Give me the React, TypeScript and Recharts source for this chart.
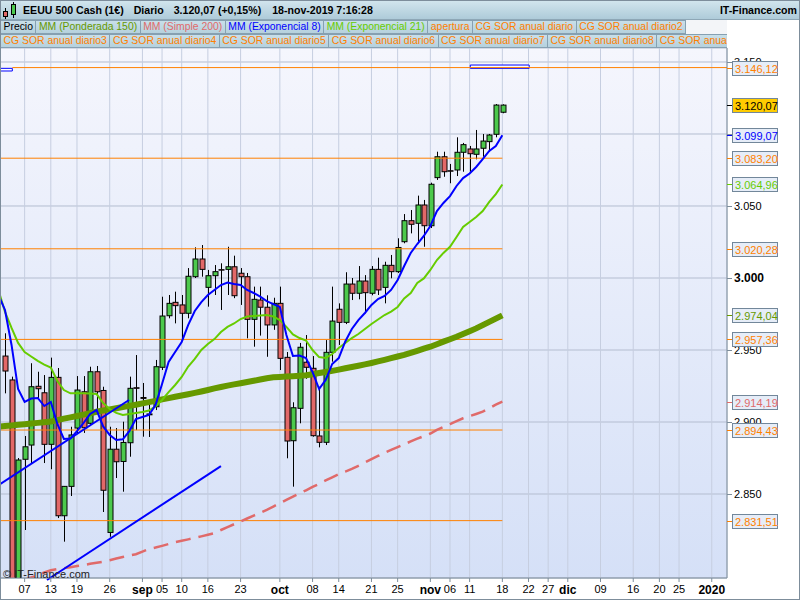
import React from 'react';
import { ComposedChart, Bar, Line, XAxis, YAxis, CartesianGrid, ReferenceLine, ReferenceArea } from 'recharts';

// sesiones: posición 0 = 01-ago (índice -1), posición 1 = 02-ago (índice 0) ... 18-nov (índice 76)
const fechas = [
    '01-ago', '02-ago', '05-ago', '06-ago', '07-ago', '08-ago', '09-ago', '12-ago', '13-ago', '14-ago',
    '15-ago', '16-ago', '19-ago', '20-ago', '21-ago', '22-ago', '23-ago', '26-ago', '27-ago', '28-ago',
    '29-ago', '30-ago', '02-sep', '03-sep', '04-sep', '05-sep', '06-sep', '09-sep', '10-sep', '11-sep',
    '12-sep', '13-sep', '16-sep', '17-sep', '18-sep', '19-sep', '20-sep', '23-sep', '24-sep', '25-sep',
    '26-sep', '27-sep', '30-sep', '01-oct', '02-oct', '03-oct', '04-oct', '07-oct', '08-oct', '09-oct',
    '10-oct', '11-oct', '14-oct', '15-oct', '16-oct', '17-oct', '18-oct', '21-oct', '22-oct', '23-oct',
    '24-oct', '25-oct', '28-oct', '29-oct', '30-oct', '31-oct', '01-nov', '04-nov', '05-nov', '06-nov',
    '07-nov', '08-nov', '11-nov', '12-nov', '13-nov', '14-nov', '15-nov', '18-nov',
];

const apertura = [
    null, 2945.8, 2929.2, 2772, 2874.1, 2884, 2924.8, 2920.3, 2884.5, 2931, 2834.9, 2855.3, 2895.8, 2921, 2899.1,
    2934.9, 2921.9, 2823.3, 2881.1, 2872.6, 2885.6, 2923.8, 2917, 2905, 2910.6, 2938, 2973.8, 2983.1, 2981.3,
    2975.5, 3000.9, 3013.2, 2993.5, 3001.6, 3005.8, 3006, 3007.8, 3003.3, 3000.9, 2971.3, 2984.7, 2979.7, 2967.4,
    2982.4, 2944.9, 2887, 2909.5, 2941.5, 2937.3, 2890.3, 2885.9, 2948.4, 2978.3, 2969.2, 2995.8, 2989.4, 2997.9,
    2989.4, 3006, 2993.5, 3008.8, 3004.4, 3025.2, 3039.8, 3038, 3050.7, 3036.3, 3069.7, 3084.2, 3074.5, 3075,
    3087.3, 3089.6, 3085.9, 3090.1, 3094.7, 3099.8, 3115.1,
];
const maximo = [
    null, 2961.6, 2931.5, 2875, 2890.3, 2940.8, 2934.9, 2932.6, 2944.7, 2937.5, 2855.5, 2896.7, 2931.9, 2931.9,
    2938.4, 2938.9, 2924.5, 2896.7, 2895.8, 2900.2, 2931.5, 2946.5, 2927.1, 2915.3, 2943.1, 2987, 2988.2, 2990.5,
    2988.2, 3006.9, 3021.3, 3022.9, 3005.6, 3009, 3010.2, 3021.7, 3015.5, 3006.9, 3003.5, 2994, 2994, 2988, 2986.3,
    2994, 2948.6, 2913.7, 2954.9, 2960.4, 2945.8, 2924.5, 2956.9, 2994, 2982.4, 3004, 3000, 3008.3, 3002, 3008.3,
    3014.1, 3011.3, 3016, 3027.6, 3044.4, 3047.2, 3057.2, 3054.2, 3066.2, 3087.7, 3087.7, 3079.2, 3097.7, 3093.8,
    3091.7, 3102.8, 3100, 3100, 3120.8, 3120.6,
];
const minimo = [
    null, 2919.9, 2760, 2765, 2825, 2871.3, 2915.3, 2871.5, 2867.2, 2833.3, 2816.9, 2848.6, 2892.4, 2892.4, 2897.2,
    2908.3, 2837.5, 2820.3, 2861.1, 2851.6, 2875.9, 2894.4, 2889.8, 2889.6, 2908.3, 2936.1, 2972, 2968.5, 2956.9,
    2972, 3000, 3000.9, 2980.1, 2988.2, 2977.8, 2988.2, 2986, 2981.3, 2958.1, 2952.3, 2960, 2945.3, 2964, 2936.1,
    2874.8, 2855.1, 2899.1, 2930, 2889.8, 2882.4, 2884, 2941.9, 2953.5, 2968, 2984.7, 2985.2, 2975.5, 2988, 2988.2,
    2982.4, 2999.8, 3003.5, 3024.1, 3031, 3025.2, 3021.7, 3034.7, 3068.1, 3070.3, 3065.8, 3070.8, 3073.8, 3073.8,
    3082.4, 3084.2, 3087.7, 3097.7, 3114.4,
];
const cierre = [
    null, 2935.4, 2770, 2873.6, 2882.8, 2924.5, 2923.1, 2884.5, 2931, 2834.9, 2855.3, 2891, 2922.2, 2896, 2934.9,
    2921, 2852.6, 2881.1, 2872.4, 2885.8, 2923.4, 2923.4, 2916.4, 2905.6, 2938.4, 2973.6, 2982.4, 2980.8, 2975.5,
    3001.2, 3013.2, 3006, 3001.6, 3004.4, 3005.6, 3007.8, 2987.7, 3000.9, 2971.3, 2985.2, 2979.7, 2967.4, 2982.4,
    2944.2, 2886.8, 2909.9, 2951.9, 2938, 2890.5, 2885.9, 2948.4, 2970.1, 2969.2, 2995.8, 2989.4, 2997.9, 2989.8,
    3006, 2991.7, 3008.8, 3004.4, 3021.2, 3039.8, 3037.3, 3050.7, 3036.3, 3065.1, 3084.2, 3073.8, 3074.3, 3087.3,
    3092.6, 3086.3, 3089.6, 3095.1, 3099.3, 3120.1, 3120.07,
];

const mmPonderada150 = [
    2896.8, 2897.2, 2897.6, 2898.1, 2898.5, 2899, 2899.4, 2899.9, 2900.3, 2901.3, 2902.3, 2903.2, 2904.2, 2905.1,
    2906.1, 2907.1, 2908, 2908.8, 2909.6, 2910.4, 2911.2, 2912, 2912.9, 2913.8, 2914.7, 2915.7, 2916.6, 2917.5,
    2918.4, 2919.3, 2920.2, 2921.2, 2922.2, 2923.3, 2924.3, 2925.3, 2926.1, 2926.9, 2927.8, 2928.6, 2929.5, 2930.4,
    2931, 2931.3, 2931.6, 2931.8, 2932.1, 2932.5, 2933.2, 2934, 2934.7, 2935.5, 2936.4, 2937.3, 2938.2, 2939.1,
    2940, 2941, 2942.1, 2943.2, 2944.4, 2945.5, 2946.6, 2948, 2949.4, 2950.9, 2952.3, 2954, 2955.8, 2957.5, 2959.2,
    2961.1, 2963, 2965, 2967.3, 2969.5, 2971.8, 2974.04,
];
const mmSimple200 = [
    2784.5, 2786, 2787.5, 2789, 2790.5, 2792, 2793.5, 2795.5, 2797, 2797.8, 2798.5, 2799.2, 2800, 2800.7, 2801.5,
    2802.2, 2803, 2804, 2805.2, 2806.3, 2807.4, 2808.2, 2810, 2811.8, 2812.8, 2814, 2815.3, 2816.6, 2817.6, 2818.5,
    2819.5, 2820.6, 2821.7, 2822.8, 2825, 2827, 2829, 2831, 2833, 2835, 2837, 2839, 2841.3, 2843.6, 2845.9, 2848.2,
    2850.4, 2852.6, 2854.9, 2857, 2859.4, 2861.6, 2863.7, 2865.5, 2867.4, 2869.6, 2871.9, 2874.2, 2876.4, 2878.7,
    2880.6, 2882.5, 2884.5, 2886.5, 2888.4, 2890.2, 2892, 2894.5, 2896.5, 2898.5, 2900.6, 2902.6, 2904.1, 2905.6,
    2907.2, 2909.5, 2912, 2914.19,
];
const mmExponencial8 = [
    2988.2, 2977.8, 2953.5, 2922.9, 2913.9, 2916.3, 2916.7, 2911.1, 2913.9, 2898.6, 2888.2, 2888.5, 2893.7, 2899.3,
    2905.6, 2908.3, 2896.9, 2891, 2887.5, 2888, 2893.7, 2902.1, 2903.5, 2904.9, 2911.8, 2926.4, 2941.7, 2948.6,
    2955.6, 2967.4, 2977.1, 2983.3, 2988.2, 2991.7, 2995.1, 2996.9, 2995.8, 2995.1, 2991.7, 2989.6, 2987, 2984,
    2981.9, 2979.9, 2960.4, 2945.8, 2946.2, 2944.4, 2934.7, 2922.9, 2929.2, 2940.3, 2944.4, 2955.9, 2964.6, 2970.8,
    2975.7, 2981.3, 2985.4, 2987.5, 2991.7, 2998.6, 3008.3, 3017.4, 3023.6, 3029.2, 3036.1, 3046.5, 3052.1, 3056.9,
    3063.9, 3069.4, 3072.6, 3077.1, 3082.6, 3088.2, 3091.7, 3099.07,
];
const mmExponencial21 = [
    2991.7, 2976.4, 2965.3, 2954.9, 2948.6, 2945.5, 2942.4, 2939.9, 2937.8, 2928.5, 2922.2, 2919.9, 2919.9, 2919.9,
    2919.8, 2919.4, 2913.2, 2909, 2906.3, 2904.9, 2905.6, 2906.3, 2906.9, 2908, 2910.8, 2915.3, 2920.8, 2925.7,
    2931.3, 2938.5, 2943.8, 2950, 2954.2, 2957.6, 2962.5, 2966, 2968.4, 2971.5, 2973.3, 2973.6, 2974, 2974.3,
    2973.3, 2970.8, 2966, 2960.8, 2958.3, 2956.6, 2950, 2945.1, 2944.4, 2947.2, 2951.4, 2954.9, 2958.3, 2961.1,
    2964.6, 2968.1, 2971.2, 2974.3, 2976.7, 2979.9, 2985.8, 2989.6, 2996.5, 2999.7, 3005.6, 3012.5, 3017.4, 3021.7,
    3028.5, 3035.4, 3038.9, 3042.4, 3046.5, 3052.8, 3058.3, 3064.96,
];

// niveles "CG SOR anual diario" (líneas naranjas)
const nivelesSor = [3146.12, 3083.2, 3020.28, 2957.36, 2894.43, 2831.51];

// objetos dibujados a mano: índice de sesión y precio
const lineasTendencia = [
    { x1: -0.76, y1: 2856.9, x2: 18.95, y2: 2915.3 },
    { x1: 6.42, y1: 2790.3, x2: 33, y2: 2869.4 },
];
const rectangulos = [
    { x1: -0.76, x2: 1.12, y1: 3143.75, y2: 3145.6 },
    { x1: 71.1, x2: 80.1, y1: 3145.6, y2: 3147.9 },
];

const ticksX = [3, 7, 11, 16, 21, 24, 27, 31, 36, 42, 47, 51, 56, 60, 65, 68, 71, 76, 80, 83, 86, 91, 96, 100, 103, 108];
const etiquetasX = ['07', '13', '19', '26', 'sep', '05', '10', '16', '23', 'oct', '08', '14', '21', '25', 'nov', '06', '11', '18', '22', '27', 'dic', '09', '16', '20', '25', '2020'];
const ticksY = [2850, 2900, 2950, 3000, 3050, 3100, 3150];

const leyenda1 = [
    ['Precio', '#000000'],
    ['MM (Ponderada 150)', '#669900'],
    ['MM (Simple 200)', '#e06a6a'],
    ['MM (Exponencial 8)', '#0000ff'],
    ['MM (Exponencial 21)', '#66cc00'],
    ['apertura', '#ff8000'],
    ['CG SOR anual diario', '#ff8000'],
    ['CG SOR anual diario2', '#ff8000'],
];
const leyenda2 = [
    'CG SOR anual diario3', 'CG SOR anual diario4', 'CG SOR anual diario5', 'CG SOR anual diario6',
    'CG SOR anual diario7', 'CG SOR anual diario8', 'CG SOR anual diario9',
];

const DOMINIO_X: [number, number] = [-0.764, 110.33];
const DOMINIO_Y: [number, number] = [2791.67, 3159.72];
const NARANJA = '#ff8000';
const GRIS_EJE = '#7d8d9b';

const filas = fechas.map((f, k) => ({
    i: k - 1,
    fecha: f,
    o: apertura[k],
    h: maximo[k],
    l: minimo[k],
    c: cierre[k],
    p150: mmPonderada150[k],
    s200: mmSimple200[k],
    e8: mmExponencial8[k],
    e21: mmExponencial21[k],
}));

const miles = (v: number, dec = 0) => {
    const [ent, fr] = v.toFixed(dec).split('.');
    const e = ent.replace(/\B(?=(\d{3})+(?!\d))/g, '.');
    return fr ? `${e},${fr}` : e;
};

const ultimo = fechas.length - 1;
const cajas = [
    { v: nivelesSor[0], color: NARANJA },
    { v: cierre[ultimo] as number, color: '#000', fondo: '#ffcc00' },
    { v: mmExponencial8[ultimo], color: '#0000ff' },
    { v: nivelesSor[1], color: NARANJA },
    { v: mmExponencial21[ultimo], color: '#66cc00' },
    { v: nivelesSor[2], color: NARANJA },
    { v: mmPonderada150[ultimo], color: '#669900' },
    { v: nivelesSor[3], color: NARANJA },
    { v: mmSimple200[ultimo], color: '#e06a6a' },
    { v: nivelesSor[4], color: NARANJA },
    { v: nivelesSor[5], color: NARANJA },
];
// primero las marcas numéricas y luego los recuadros, que quedan encima
const ticksEje = [...ticksY, ...cajas.map((b) => b.v)];

function Vela(props: any) {
    const { x, y, width, height, payload } = props;
    if (!payload || payload.o == null || height == null) return null;
    const { o, h, l, c } = payload;
    const top = height < 0 ? y + height : y;
    const alto = Math.abs(height);
    const k = alto / (h - l);
    const cx = Math.round(x + width / 2) + 0.5;
    const yo = top + (h - o) * k;
    const yc = top + (h - c) * k;
    const cuerpo = Math.min(yo, yc);
    const sube = c >= o;
    return (
        <g>
            <line x1={cx} x2={cx} y1={top} y2={top + alto} stroke="#000" strokeWidth={1} />
            <rect
                x={cx - 2.5}
                y={cuerpo}
                width={5}
                height={Math.max(Math.abs(yc - yo), 0.5)}
                fill={sube ? '#4cc94c' : '#e26868'}
                stroke="#000"
                strokeWidth={1}
            />
        </g>
    );
}

function TickX(props: any) {
    const { x, y, payload } = props;
    const t = etiquetasX[ticksX.indexOf(payload.value)] ?? '';
    const fuerte = ['sep', 'oct', 'nov', 'dic', '2020'].includes(t);
    return (
        <text x={x} y={y} dy="0.75em" textAnchor="middle" fontSize={fuerte ? 12 : 11} fontWeight={fuerte ? 'bold' : 'normal'} fill="#000">
            {t}
        </text>
    );
}

// marca del eje derecho: número de la escala o recuadro con el valor
function TickY(props: any) {
    const { x, y, payload, index } = props;
    const yy = Math.round(y);
    if (index < ticksY.length) {
        const fuerte = payload.value === 3000;
        return (
            <g>
                <line x1={x} x2={x + 5} y1={yy + 0.5} y2={yy + 0.5} stroke={GRIS_EJE} />
                <text x={x + 7} y={yy} dy={4} textAnchor="start" fontSize={fuerte ? 12 : 11} fontWeight={fuerte ? 'bold' : 'normal'} fill="#000">
                    {miles(payload.value)}
                </text>
            </g>
        );
    }
    const b = cajas[index - ticksY.length];
    if (!b) return null;
    const fondo = b.fondo ?? '#e6edf8';
    return (
        <g>
            <line x1={x} x2={x + 5} y1={yy + 0.5} y2={yy + 0.5} stroke={b.color} />
            <rect x={x + 5.5} y={yy - 6.5} width={45} height={14} fill={fondo} stroke="#72879a" />
            <text x={x + 8} y={yy + 4.5} fontSize={11} fill={b.color} textAnchor="start">
                {miles(b.v, 2)}
            </text>
        </g>
    );
}

const cajaLeyenda: React.CSSProperties = {
    height: 14,
    boxSizing: 'border-box',
    border: '1px solid #86a0b1',
    marginRight: -1,
    padding: '0 2.5px',
    background: 'linear-gradient(#c8dfe9, #b6d1dd)',
    fontSize: 10.4,
    lineHeight: '12px',
    whiteSpace: 'nowrap',
    flexShrink: 0,
};

function Encabezado() {
    return (
        <>
            <div
                style={{
                    position: 'absolute', left: 0, top: 0, width: 800, height: 20, boxSizing: 'border-box',
                    background: 'linear-gradient(#d3e6ee, #aecbd9)', borderBottom: '1px solid #8ea7b6',
                    display: 'flex', alignItems: 'center', fontSize: 10.6, fontWeight: 'bold', color: '#000',
                }}
            >
                <svg width={20} height={20} style={{ flexShrink: 0 }}>
                    <line x1={5.5} x2={5.5} y1={8} y2={19} stroke="#000" />
                    <rect x={3.5} y={11.5} width={4} height={5} fill="#e26868" stroke="#000" />
                    <line x1={13.5} x2={13.5} y1={2} y2={18} stroke="#000" />
                    <rect x={11.5} y={4.5} width={4} height={10} fill="#4cc94c" stroke="#000" />
                </svg>
                <span style={{ marginLeft: 3 }}>EEUU 500 Cash (1€)</span>
                <span style={{ marginLeft: 10 }}>Diario</span>
                <span style={{ marginLeft: 10 }}>3.120,07 (+0,15%)</span>
                <span style={{ marginLeft: 11 }}>18-nov-2019 7:16:28</span>
                <span style={{ marginLeft: 'auto', marginRight: 3 }}>IT-Finance.com</span>
            </div>
            <div style={{ position: 'absolute', left: 0, top: 20, width: 727, height: 14, display: 'flex', overflow: 'hidden', background: '#f3f5f8' }}>
                {leyenda1.map(([t, c]) => (
                    <div key={t} style={{ ...cajaLeyenda, color: c }}>{t}</div>
                ))}
            </div>
            <div style={{ position: 'absolute', left: 0, top: 34, width: 727, height: 14, display: 'flex', overflow: 'hidden' }}>
                {leyenda2.map((t) => (
                    <div key={t} style={{ ...cajaLeyenda, color: NARANJA }}>{t}</div>
                ))}
            </div>
        </>
    );
}

export default function App() {
    return (
        <div style={{ position: 'relative', width: 800, height: 600, overflow: 'hidden', background: '#fff', fontFamily: '"Liberation Sans", Arial, sans-serif' }}>
            <style>{'body{margin:0}'}</style>
            <ComposedChart width={800} height={600} data={filas} margin={{ top: 48, right: 0, bottom: 0, left: 0 }}>
                <defs>
                    <linearGradient id="fondoGrafico" x1="0" y1="0" x2="0" y2="1">
                        <stop offset="0%" stopColor="#f5f6fd" />
                        <stop offset="100%" stopColor="#d5e0f7" />
                    </linearGradient>
                </defs>
                <CartesianGrid vertical={false} yAxisId="rejilla" stroke="#b4bdd0" fill="url(#fondoGrafico)" />
                <CartesianGrid horizontal={false} stroke="#c6cee0" />
                <XAxis
                    dataKey="i"
                    type="number"
                    domain={DOMINIO_X}
                    allowDataOverflow
                    ticks={ticksX}
                    interval={0}
                    tick={<TickX />}
                    height={22}
                    tickSize={4}
                    tickMargin={3}
                    axisLine={{ stroke: GRIS_EJE }}
                    tickLine={{ stroke: GRIS_EJE }}
                />
                <YAxis yAxisId="rejilla" hide orientation="right" type="number" domain={DOMINIO_Y} allowDataOverflow ticks={ticksY} interval={0} />
                <YAxis
                    orientation="right"
                    type="number"
                    domain={DOMINIO_Y}
                    allowDataOverflow
                    ticks={ticksEje}
                    interval={0}
                    width={73}
                    tick={<TickY />}
                    tickSize={0}
                    tickMargin={0}
                    axisLine={{ stroke: GRIS_EJE }}
                    tickLine={false}
                />
                {nivelesSor.map((v, n) => (
                    <ReferenceLine
                        key={'sor' + v}
                        segment={[{ x: n === 0 ? 1.12 : DOMINIO_X[0], y: v }, { x: n === 0 ? DOMINIO_X[1] : ultimo - 1, y: v }]}
                        stroke={NARANJA}
                        strokeWidth={1}
                        ifOverflow="visible"
                    />
                ))}
                <Line dataKey="s200" stroke="#e06a6a" strokeWidth={2.5} strokeDasharray="15 8" dot={false} activeDot={false} isAnimationActive={false} />
                <Line dataKey="p150" stroke="#669900" strokeWidth={6} dot={false} activeDot={false} isAnimationActive={false} />
                <Bar dataKey={(d: any) => (d.o == null ? null : [d.l, d.h])} barSize={5} shape={(p: any) => <Vela {...p} />} isAnimationActive={false} />
                <Line dataKey="e21" stroke="#66cc00" strokeWidth={2} dot={false} activeDot={false} isAnimationActive={false} />
                <Line dataKey="e8" stroke="#0000ff" strokeWidth={2} dot={false} activeDot={false} isAnimationActive={false} />
                {lineasTendencia.map((t, n) => (
                    <ReferenceLine
                        key={'tend' + n}
                        segment={[{ x: t.x1, y: t.y1 }, { x: t.x2, y: t.y2 }]}
                        stroke="#0000ff"
                        strokeWidth={2}
                        ifOverflow="visible"
                    />
                ))}
                {rectangulos.map((r, n) => (
                    <ReferenceArea key={'rect' + n} x1={r.x1} x2={r.x2} y1={r.y1} y2={r.y2} fill="#ffffff" fillOpacity={1} stroke="#0000ff" strokeWidth={1} ifOverflow="visible" />
                ))}
            </ComposedChart>
            <Encabezado />
            <div style={{ position: 'absolute', left: 3, top: 568, fontSize: 11, color: '#222', whiteSpace: 'nowrap' }}>© IT-Finance.com</div>
            <div style={{ position: 'absolute', left: 0, top: 0, width: 800, height: 600, boxSizing: 'border-box', border: '1px solid #7d8d9b', pointerEvents: 'none' }} />
        </div>
    );
}
